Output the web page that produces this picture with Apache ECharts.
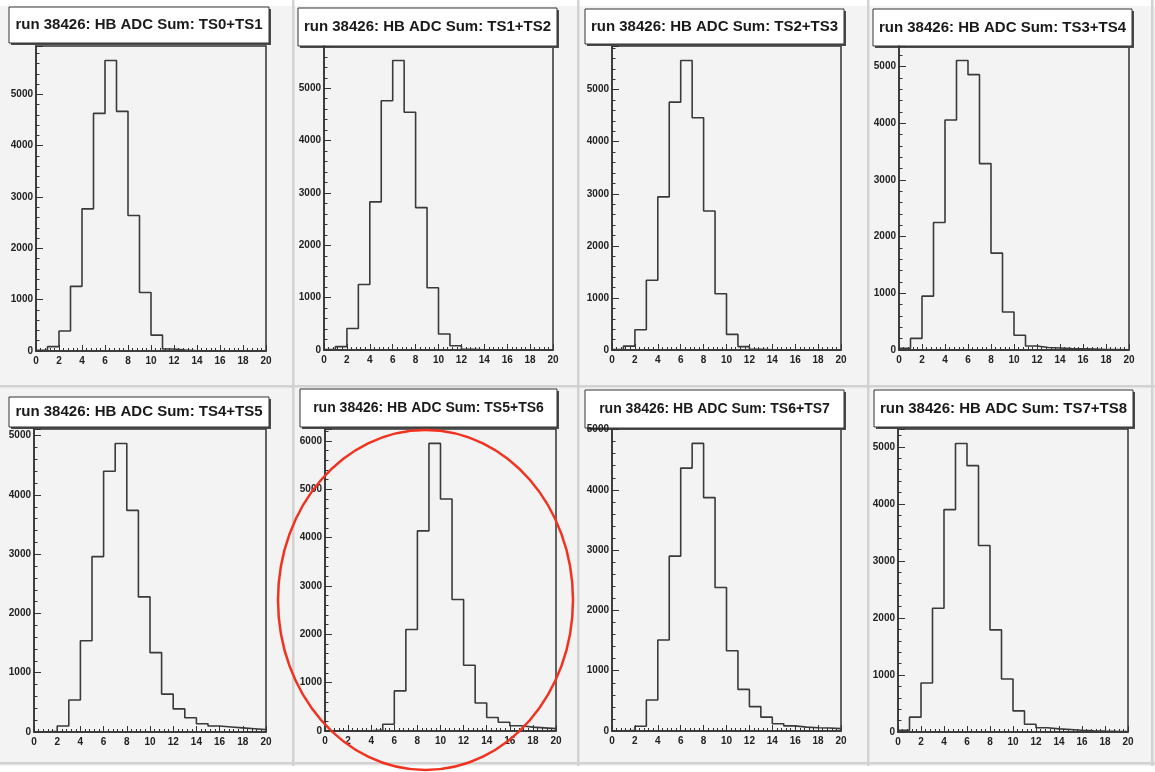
<!DOCTYPE html>
<html>
<head>
<meta charset="utf-8">
<script src="https://cdn.jsdelivr.net/npm/echarts@6/dist/echarts.min.js"></script>
<style>
  html, body { margin: 0; padding: 0; background: #f3f3f3; }
  #chart { width: 1155px; height: 772px; }
</style>
</head>
<body>
<div id="chart"></div>
<script>
// histogram contents, 20 bins of width 1 from 0 to 20
const sumTS0TS1 = [15, 85, 390, 1260, 2770, 4630, 5660, 4670, 2640, 1140, 310, 40, 20, 5, 2, 0, 0, 0, 0, 0];
const sumTS1TS2 = [10, 65, 410, 1250, 2830, 4760, 5530, 4540, 2720, 1190, 305, 80, 15, 3, 0, 0, 0, 0, 0, 0];
const sumTS2TS3 = [10, 75, 390, 1340, 2940, 4760, 5560, 4460, 2670, 1080, 300, 65, 15, 3, 0, 0, 0, 0, 0, 0];
const sumTS3TS4 = [30, 205, 950, 2250, 4060, 5110, 4860, 3290, 1710, 670, 260, 70, 45, 35, 25, 20, 15, 10, 8, 5];
const sumTS4TS5 = [0, 10, 100, 540, 1540, 2960, 4400, 4870, 3740, 2280, 1340, 640, 390, 240, 140, 100, 85, 70, 55, 40];
const sumTS5TS6 = [0, 0, 0, 5, 20, 140, 830, 2100, 4140, 5950, 4800, 2720, 1360, 580, 280, 180, 110, 80, 65, 50];
const sumTS6TS7 = [0, 10, 80, 515, 1510, 2900, 4360, 4770, 3870, 2380, 1330, 690, 405, 230, 120, 85, 65, 55, 50, 40];
const sumTS7TS8 = [30, 260, 860, 2170, 3900, 5060, 4670, 3270, 1790, 930, 370, 135, 75, 55, 45, 30, 20, 15, 12, 10];

const panelTitles = [
  "run 38426: HB ADC Sum: TS0+TS1",
  "run 38426: HB ADC Sum: TS1+TS2",
  "run 38426: HB ADC Sum: TS2+TS3",
  "run 38426: HB ADC Sum: TS3+TS4",
  "run 38426: HB ADC Sum: TS4+TS5",
  "run 38426: HB ADC Sum: TS5+TS6",
  "run 38426: HB ADC Sum: TS6+TS7",
  "run 38426: HB ADC Sum: TS7+TS8"
];
const panelCounts = [sumTS0TS1, sumTS1TS2, sumTS2TS3, sumTS3TS4, sumTS4TS5, sumTS5TS6, sumTS6TS7, sumTS7TS8];

const xMin = 0, xMax = 20, binWidth = 1;

// layout of the pads (pixels)
const plotBoxes = [
  { left: 36,  top: 46,  width: 230, height: 305 },
  { left: 324, top: 46,  width: 229, height: 304 },
  { left: 612, top: 46,  width: 229, height: 304 },
  { left: 899, top: 46,  width: 230, height: 304 },
  { left: 34,  top: 429, width: 232, height: 303 },
  { left: 325, top: 429, width: 231, height: 302 },
  { left: 612, top: 429, width: 229, height: 302 },
  { left: 898, top: 429, width: 230, height: 303 }
];
const titleBoxes = [
  { x: 9,   y: 7,   w: 260, h: 36, size: 15 },
  { x: 298, y: 8,   w: 259, h: 38, size: 15 },
  { x: 585, y: 9,   w: 259, h: 35, size: 15 },
  { x: 873, y: 9,   w: 259, h: 37, size: 15 },
  { x: 9,   y: 397, w: 260, h: 30, size: 15 },
  { x: 300, y: 389, w: 257, h: 38, size: 14 },
  { x: 585, y: 390, w: 259, h: 38, size: 14 },
  { x: 874, y: 390, w: 259, h: 37, size: 15 }
];

const FONT = "'Liberation Sans', Arial, Helvetica, sans-serif";
const INK = "#333";

const chart = echarts.init(document.getElementById("chart"), null, { renderer: "canvas" });

const grids = [], xAxes = [], yAxes = [], series = [];

panelCounts.forEach((counts, i) => {
  const box = plotBoxes[i];
  grids.push({
    left: box.left, top: box.top, width: box.width, height: box.height,
    show: true, borderColor: INK, borderWidth: 1.5, backgroundColor: "transparent",
    containLabel: false, outerBoundsMode: "none"
  });

  xAxes.push({
    gridIndex: i, type: "value", min: xMin, max: xMax, interval: 2,
    axisLine: { show: true, onZero: false, lineStyle: { color: INK, width: 1.5 } },
    axisTick: { show: true, inside: true, length: 6, lineStyle: { color: INK, width: 1 } },
    minorTick: { show: true, splitNumber: 5, length: 3, lineStyle: { color: INK, width: 1 } },
    splitLine: { show: false },
    axisLabel: { color: "#222", fontSize: 10, fontWeight: "bold", fontFamily: FONT, margin: 5 }
  });

  // ROOT style: frame top at 1.05 x highest bin
  const yMax = Math.max(...counts) * 1.05;
  yAxes.push({
    gridIndex: i, type: "value", min: 0, max: yMax, interval: 1000,
    axisLine: { show: true, onZero: false, lineStyle: { color: INK, width: 1.5 } },
    axisTick: { show: true, inside: true, length: 7, lineStyle: { color: INK, width: 1 } },
    minorTick: { show: true, splitNumber: 5, length: 3.5, lineStyle: { color: INK, width: 1 } },
    splitLine: { show: false },
    axisLabel: {
      color: "#222", fontSize: 10, fontWeight: "bold", fontFamily: FONT, margin: 3,
      formatter: v => (v % 1000 === 0 ? String(v) : "")
    }
  });

  //outline of the histogram: one point per bin low edge plus the last high edge
  const outline = counts.map((c, b) => [xMin + b * binWidth, c]);
  outline.push([xMin + counts.length * binWidth, counts[counts.length - 1]]);

  series.push({
    type: "line", xAxisIndex: i, yAxisIndex: i,
    step: "end", symbol: "none", silent: true,
    lineStyle: { color: "#3a3a3a", width: 1.6 },
    data: outline
  });
});

// pads, separators and title panes
const graphic = [
  { type: "rect", shape: { x: 0, y: 0, width: 1155, height: 6 }, style: { fill: "#ffffff" }, z: -1 },
  { type: "rect", shape: { x: 0, y: 766, width: 1155, height: 6 }, style: { fill: "#ffffff" }, z: -1 }
];
[293, 578, 868, 1152].forEach(x => {
  graphic.push({ type: "rect", shape: { x: x - 1, y: 0, width: 2.5, height: 766 }, style: { fill: "#d2d2d2" }, z: -1 });
});
[386, 763].forEach(y => {
  graphic.push({ type: "rect", shape: { x: 0, y: y - 1, width: 1155, height: 2.5 }, style: { fill: "#d2d2d2" }, z: -1 });
});

titleBoxes.forEach((t, i) => {
  graphic.push({
    type: "group", z: 100,
    children: [
      { type: "rect", shape: { x: t.x + 2, y: t.y + 2, width: t.w, height: t.h }, style: { fill: "#4a4a4a" } },
      { type: "rect", shape: { x: t.x, y: t.y, width: t.w, height: t.h }, style: { fill: "#ffffff", stroke: INK, lineWidth: 1 } },
      {
        type: "text", x: t.x + t.w / 2, y: t.y + t.h / 2,
        style: {
          text: panelTitles[i], fill: "#1a1a1a", font: "bold " + t.size + "px " + FONT,
          align: "center", verticalAlign: "middle"
        }
      }
    ]
  });
});

// red mark drawn round the TS5+TS6 pad
graphic.push({
  type: "ellipse", z: 200, silent: true,
  shape: { cx: 425.5, cy: 600, rx: 147.5, ry: 170 },
  style: { fill: null, stroke: "#f2311f", lineWidth: 2.5 }
});

chart.setOption({
  backgroundColor: "#f3f3f3",
  animation: false,
  grid: grids,
  xAxis: xAxes,
  yAxis: yAxes,
  series: series,
  graphic: graphic
});
</script>
</body>
</html>
